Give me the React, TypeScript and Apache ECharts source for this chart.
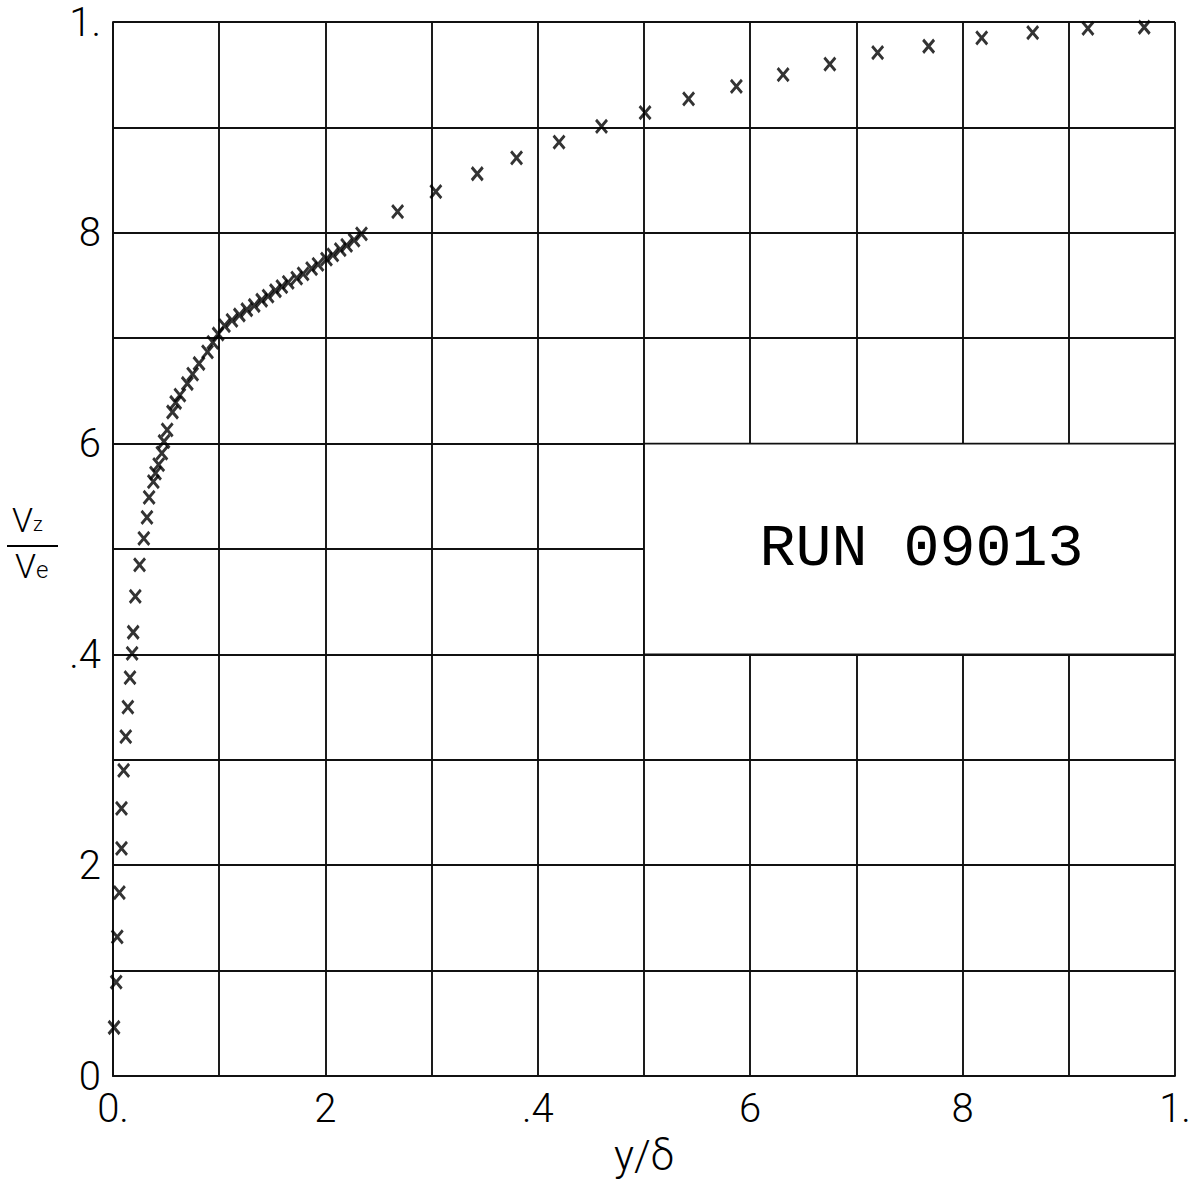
import React, { useEffect, useRef } from "react";
import * as echarts from "echarts";

// Measured profile: normalised distance y/δ and velocity ratio Vz/Ve
const yOverDelta = [
  0.001, 0.003, 0.004, 0.006, 0.008, 0.008, 0.01, 0.012, 0.014, 0.016,
  0.018, 0.019, 0.021, 0.025, 0.029, 0.032, 0.034, 0.038, 0.04, 0.043,
  0.046, 0.048, 0.051, 0.056, 0.059, 0.063, 0.07, 0.075, 0.081, 0.089,
  0.094, 0.099, 0.105, 0.112, 0.119, 0.126, 0.133, 0.14, 0.146, 0.153,
  0.159, 0.165, 0.173, 0.179, 0.187, 0.193, 0.201, 0.207, 0.214, 0.22,
  0.227, 0.234, 0.268, 0.304, 0.343, 0.38, 0.42, 0.46, 0.501, 0.542,
  0.587, 0.631, 0.675, 0.72, 0.768, 0.818, 0.866, 0.918, 0.971,
];
const vzOverVe = [
  0.046, 0.089, 0.132, 0.174, 0.216, 0.254, 0.29, 0.322, 0.35, 0.378,
  0.401, 0.421, 0.455, 0.485, 0.51, 0.53, 0.549, 0.564, 0.572, 0.58,
  0.591, 0.602, 0.613, 0.63, 0.639, 0.646, 0.657, 0.666, 0.676, 0.687,
  0.696, 0.704, 0.712, 0.717, 0.722, 0.727, 0.731, 0.736, 0.74, 0.745,
  0.749, 0.753, 0.757, 0.761, 0.766, 0.77, 0.775, 0.779, 0.784, 0.788,
  0.793, 0.799, 0.82, 0.839, 0.856, 0.871, 0.886, 0.901, 0.914, 0.927,
  0.939, 0.95, 0.96, 0.971, 0.977, 0.985, 0.99, 0.994, 0.995,
];

// Plotter-style tick labels, one per 0.1 grid line
const xTickLabels = ["0.", "", "2", "", ".4", "", "6", "", "8", "", "1."];
const yTickLabels = ["0", "", "2", "", ".4", "", "6", "", "8", "", "1."];

const runLabel = "RUN 09013";

const INK = "#000";
const FONT = "Roboto, 'DejaVu Sans', sans-serif";

export default function App() {
  const ref = useRef<HTMLDivElement>(null);

  useEffect(() => {
    if (!ref.current) return;
    const chart = echarts.init(ref.current, null, { renderer: "svg" });
    const points = yOverDelta.map((x, i) => [x, vzOverVe[i]]);

    const gridLine = { lineStyle: { color: "#111", width: 1.9 } };

    chart.setOption({
      animation: false,
      backgroundColor: "#fff",
      grid: { left: 113, right: 25, top: 22, bottom: 112, containLabel: false },
      xAxis: {
        type: "value",
        min: 0,
        max: 1,
        interval: 0.1,
        axisLine: { show: true, ...gridLine },
        axisTick: { show: false },
        splitLine: { show: true, ...gridLine },
        axisLabel: {
          margin: 12,
          color: INK,
          fontFamily: FONT,
          fontWeight: 300,
          fontSize: 40,
          formatter: (v: number) => xTickLabels[Math.round(v * 10)] ?? "",
        },
        name: "y/δ",
        nameLocation: "middle",
        nameGap: 58,
        nameTextStyle: { color: INK, fontFamily: FONT, fontWeight: 300, fontSize: 42 },
      },
      yAxis: {
        type: "value",
        min: 0,
        max: 1,
        interval: 0.1,
        axisLine: { show: true, ...gridLine },
        axisTick: { show: false },
        splitLine: { show: true, ...gridLine },
        axisLabel: {
          margin: 12,
          color: INK,
          fontFamily: FONT,
          fontWeight: 300,
          fontSize: 40,
          formatter: (v: number) => yTickLabels[Math.round(v * 10)] ?? "",
        },
      },
      graphic: [
        // stacked Vz / Ve axis title
        {
          type: "text",
          left: 12,
          top: 503,
          style: {
            text: "{v|V}{s|z}",
            rich: {
              v: { fontFamily: FONT, fontWeight: 300, fontSize: 34, fill: INK },
              s: { fontFamily: FONT, fontWeight: 300, fontSize: 20, fill: INK, padding: [8, 0, 0, 0] },
            },
          },
        },
        {
          type: "line",
          shape: { x1: 7, y1: 546, x2: 58, y2: 546 },
          style: { stroke: INK, lineWidth: 1.8 },
        },
        {
          type: "text",
          left: 15,
          top: 549,
          style: {
            text: "{v|V}{s|e}",
            rich: {
              v: { fontFamily: FONT, fontWeight: 300, fontSize: 34, fill: INK },
              s: { fontFamily: FONT, fontWeight: 300, fontSize: 24, fill: INK, padding: [8, 0, 0, 0] },
            },
          },
        },
      ],
      series: [
        {
          type: "scatter",
          data: points,
          symbol: "path://M0,0L10,12M10,0L0,12",
          symbolSize: [11, 13],
          itemStyle: { color: "transparent", borderColor: INK, borderWidth: 3 },
          z: 5,
          markArea: {
            silent: true,
            itemStyle: { color: "#fff", borderColor: "#111", borderWidth: 1.9 },
            label: {
              show: true,
              position: "inside",
              offset: [12, 0],
              color: INK,
              fontFamily: "'Liberation Mono', 'DejaVu Sans Mono', monospace",
              fontSize: 60,
            },
            data: [[{ coord: [0.5, 0.4], name: runLabel }, { coord: [1, 0.6] }]],
          },
        },
      ],
    });

    return () => chart.dispose();
  }, []);

  return (
    <div
      ref={ref}
      style={{ position: "fixed", left: 0, top: 0, width: 1200, height: 1188, background: "#fff" }}
    />
  );
}
